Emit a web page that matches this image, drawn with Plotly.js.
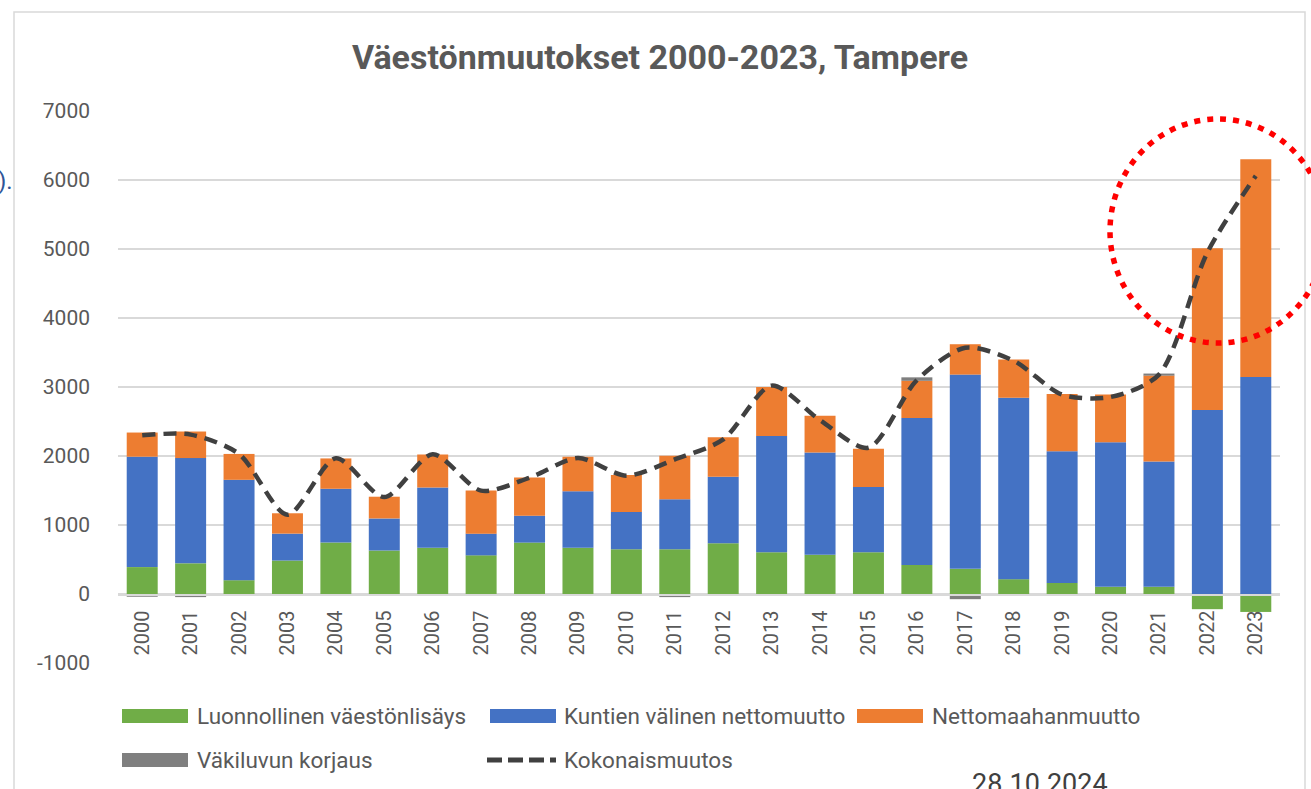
<!DOCTYPE html>
<html>
<head>
<meta charset="utf-8">
<script src="https://cdn.plot.ly/plotly-3.0.1.min.js"></script>
<style>
html,body{margin:0;padding:0;background:#fff;overflow:hidden;}
#chart{width:1311px;height:789px;}
</style>
</head>
<body>
<div id="chart"></div>
<script>
// ---- data ----
const years = ['2000','2001','2002','2003','2004','2005','2006','2007','2008','2009','2010','2011',
               '2012','2013','2014','2015','2016','2017','2018','2019','2020','2021','2022','2023'];
const naturalGrowth = [390,445,200,485,745,630,670,560,745,670,650,650,735,605,570,605,420,365,215,160,105,105,-220,-260];
const municipalNet  = [1600,1525,1455,390,780,465,875,315,390,820,540,725,965,1685,1480,945,2130,2815,2630,1910,2095,1815,2665,3145];
const netImmigration= [350,385,375,295,440,315,475,625,555,500,535,630,570,710,535,555,540,440,555,830,690,1245,2345,3155];
const correction    = [-40,-45,0,-20,0,0,0,0,0,-20,0,-45,-20,0,-20,0,50,-75,0,0,0,30,0,0];
const totalChange   = [2300,2310,2030,1150,1966,1405,2025,1498,1685,1970,1715,1950,2240,3020,2520,2120,3100,3570,3380,2890,2855,3180,4950,6060];
const yTicks = [-1000,0,1000,2000,3000,4000,5000,6000,7000];

const names = ['Luonnollinen väestönlisäys','Kuntien välinen nettomuutto','Nettomaahanmuutto','Väkiluvun korjaus','Kokonaismuutos'];
const colors = ['#70AD47','#4472C4','#ED7D31','#7F7F7F','#404040'];
const titleText = 'Väestönmuutokset 2000-2023, Tampere';

const FONT = 'Roboto, "Open Sans", sans-serif';
const TXT = '#595959';

function barTrace(vals, i){
  return {type:'bar', x:years, y:vals, name:names[i],
          marker:{color:colors[i], line:{width:0}}, showlegend:false,
          hoverinfo:'x+y+name'};
}
const traces = [
  barTrace(naturalGrowth,0),
  barTrace(municipalNet,1),
  barTrace(netImmigration,2),
  barTrace(correction,3),
  {type:'scatter', mode:'lines', x:years, y:totalChange, name:names[4], showlegend:false,
   line:{color:colors[4], width:4.5, dash:'13px,8px', shape:'spline', smoothing:0.8}}
];

// plot area in pixels
const PL=118, PR=1280, PT=111, PB=663, W=1311, H=789;
const fx = px => (px-PL)/(PR-PL);
const fy = py => (PB-py)/(PB-PT);

const shapes = [];
const annotations = [];

// chart border
shapes.push({type:'rect', xref:'paper', yref:'paper', x0:fx(14), x1:fx(1305), y0:fy(810), y1:fy(12),
             line:{color:'#D9D9D9', width:1.5}, fillcolor:'rgba(0,0,0,0)', layer:'below'});

// custom legend
const legendItems = [
  {i:0, sx:122, tx:195, y:716, kind:'box'},
  {i:1, sx:490, tx:562, y:716, kind:'box'},
  {i:2, sx:857, tx:930, y:716, kind:'box'},
  {i:3, sx:122, tx:195, y:760, kind:'box'},
  {i:4, sx:487, tx:562, y:760, kind:'line'}
];
legendItems.forEach(it=>{
  if(it.kind==='box'){
    shapes.push({type:'rect', xref:'paper', yref:'paper', x0:fx(it.sx), x1:fx(it.sx+66),
                 y0:fy(it.y+7), y1:fy(it.y-7), fillcolor:colors[it.i], line:{width:0}});
  } else {
    shapes.push({type:'line', xref:'paper', yref:'paper', x0:fx(it.sx), x1:fx(it.sx+69),
                 y0:fy(it.y), y1:fy(it.y), line:{color:colors[it.i], width:5, dash:'15px,6px'}});
  }
  annotations.push({xref:'paper', yref:'paper', x:fx(it.tx), y:fy(it.y), xanchor:'left', yanchor:'middle',
                    text:names[it.i], showarrow:false, font:{family:FONT, size:22.5, color:TXT}});
});

// red dotted highlight circle
shapes.push({type:'circle', xref:'paper', yref:'paper', x0:fx(1110), x1:fx(1326), y0:fy(343), y1:fy(119),
             line:{color:'#FF0000', width:5.5, dash:'6px,7px'}, layer:'above'});

// slide remnants
annotations.push({xref:'paper', yref:'paper', x:fx(15), y:fy(181), xanchor:'right', yanchor:'middle',
                  text:').', showarrow:false, font:{family:FONT, size:24, color:'#2F5597'}});
annotations.push({xref:'paper', yref:'paper', x:fx(1040), y:fy(766), xanchor:'center', yanchor:'top',
                  text:'28.10.2024', showarrow:false, font:{family:FONT, size:27, color:'#404040'}});

const layout = {
  width:W, height:H,
  margin:{l:PL, r:W-PR, t:PT, b:H-PB, pad:0},
  paper_bgcolor:'#ffffff', plot_bgcolor:'#ffffff',
  barmode:'relative', bargap:0.36,
  showlegend:false,
  title:{text:'<b>'+titleText+'</b>', x:660/W, xref:'container', xanchor:'center',
         y:1-57/H, yref:'container', yanchor:'middle',
         font:{family:FONT, size:34, color:TXT}},
  xaxis:{type:'category', anchor:'free', position:fy(594), tickangle:-90,
         showline:true, linecolor:'#D9D9D9', linewidth:1.5, ticks:'', showgrid:false,
         tickfont:{family:FONT, size:20, color:TXT}, ticklabelstandoff:7, fixedrange:true},
  yaxis:{range:[-1000,7000], tickvals:yTicks, ticktext:yTicks.map(String),
         showgrid:true, gridcolor:'#D9D9D9', gridwidth:1.5, zeroline:false,
         tickfont:{family:FONT, size:21, color:TXT}, ticks:'', ticklabelstandoff:27, fixedrange:true},
  shapes:shapes, annotations:annotations
};

Plotly.newPlot('chart', traces, layout, {displayModeBar:false, staticPlot:true});
</script>
</body>
</html>
